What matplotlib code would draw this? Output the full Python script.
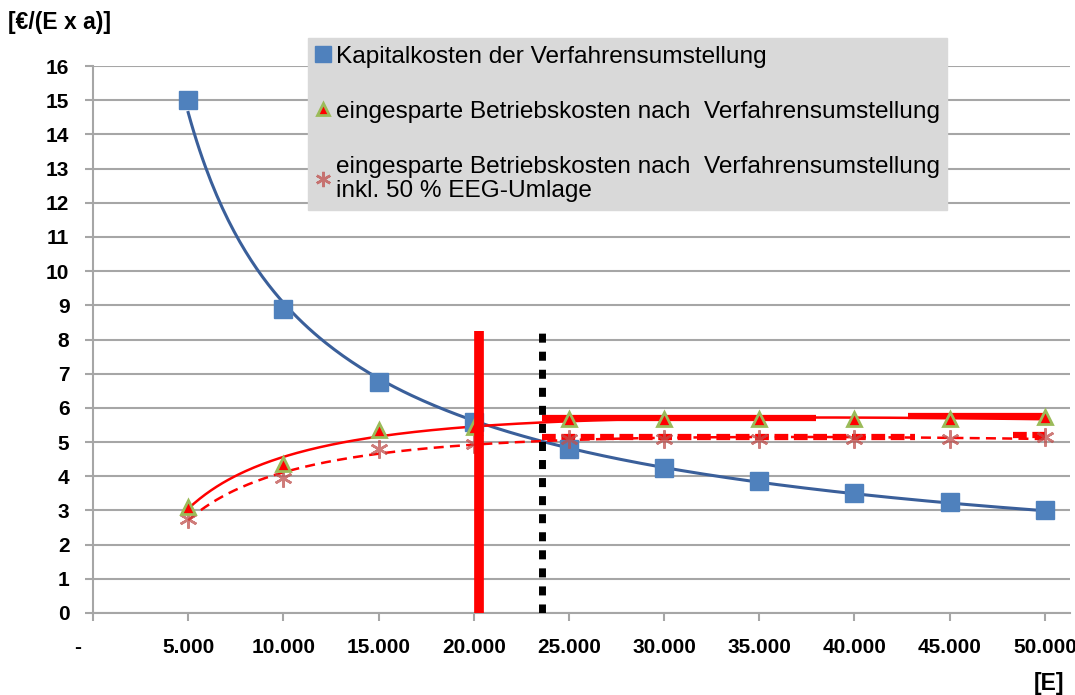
import numpy as np
import matplotlib.pyplot as plt
import matplotlib.transforms as mtransforms
from matplotlib.lines import Line2D

plt.rcParams['font.family'] = ['Liberation Sans', 'DejaVu Sans']

# Einwohner (E)
einwohner = [5000, 10000, 15000, 20000, 25000, 30000, 35000, 40000, 45000, 50000]
kapitalkosten = [15.0, 8.9, 6.75, 5.6, 4.8, 4.25, 3.85, 3.5, 3.25, 3.0]
betriebskosten = [3.1, 4.35, 5.35, 5.45, 5.67, 5.67, 5.67, 5.67, 5.67, 5.72]
betriebskosten_eeg = [2.75, 3.95, 4.8, 4.95, 5.1, 5.1, 5.1, 5.1, 5.1, 5.15]

# Schnittpunkte (Amortisationsgrenze) und Plateau-Niveaus
grenze_ohne_eeg = 20300
grenze_mit_eeg = 23600
grenze_hoehe = 8.25
plateau_1 = [(23600, 38000, 5.70), (42800, 50000, 5.75)]
plateau_2 = [(23600, 43200, 5.15), (48300, 50000, 5.2)]

xticks = [0, 5000, 10000, 15000, 20000, 25000, 30000, 35000, 40000, 45000, 50000]
xticklabels = ['-', '5.000', '10.000', '15.000', '20.000', '25.000',
               '30.000', '35.000', '40.000', '45.000', '50.000']

blau = '#4F81BD'
trend_blau = '#3A5F9A'
rot = '#FF0000'
stern = '#C0504D'

fig = plt.figure(figsize=(10.75, 6.95), dpi=100)
ax = fig.add_axes([0.0865, 0.118, 0.9085, 0.787])

x = np.array(einwohner, dtype=float)
xs = np.linspace(5000, 50000, 300)

# Trendlinien
b, a = np.polyfit(np.log(x), np.log(kapitalkosten), 1)
ax.plot(xs, np.exp(a) * xs ** b, color=trend_blau, lw=2.2, zorder=3)
p1 = np.polyfit(np.log(x), betriebskosten, 2)
ax.plot(xs, np.polyval(p1, np.log(xs)), color=rot, lw=1.8, zorder=3)
p2 = np.polyfit(np.log(x), betriebskosten_eeg, 2)
ax.plot(xs, np.polyval(p2, np.log(xs)), color=rot, lw=1.8, ls=(0, (4, 2.5)), zorder=3)

for x0, x1, yv in plateau_1:
    ax.plot([x0, x1], [yv, yv], color=rot, lw=4.5, solid_capstyle='butt', zorder=3)
for x0, x1, yv in plateau_2:
    ax.plot([x0, x1], [yv, yv], color=rot, lw=4.5, ls=(0, (2.2, 0.9)), zorder=3)

# Datenpunkte
ax.plot(einwohner, kapitalkosten, ls='none', marker='s', ms=13, color=blau,
        mec=blau, zorder=4)
ax.plot(einwohner, betriebskosten_eeg, ls='none', marker=(6, 2, 0), ms=13,
        color=stern, mew=1.8, alpha=0.75, zorder=4)
ax.plot(einwohner, betriebskosten, ls='none', marker='^', ms=10, color=rot,
        mec='#9BBB59', mew=2, zorder=5)

# Grenzlinien
ax.plot([grenze_ohne_eeg, grenze_ohne_eeg], [0, grenze_hoehe], color=rot, lw=7,
        solid_capstyle='butt', zorder=6)
ax.plot([grenze_mit_eeg, grenze_mit_eeg], [0, grenze_hoehe], color='black', lw=5,
        ls=(0, (1.3, 1.3)), zorder=6)

ax.set_xlim(0, 51300)
ax.set_ylim(0, 16)
ax.set_yticks(range(0, 17))
ax.set_xticks(xticks)
ax.set_xticklabels(xticklabels)
ax.grid(axis='y', color='#A6A6A6', lw=1.5, zorder=0)
ax.set_axisbelow(True)
for s in ['top', 'right']:
    ax.spines[s].set_visible(False)
for s in ['left', 'bottom']:
    ax.spines[s].set_color('#A6A6A6')
    ax.spines[s].set_linewidth(1.5)
ax.tick_params(axis='both', colors='#A6A6A6', width=1.5, length=6,
               labelcolor='black', labelsize=15)
ax.tick_params(axis='x', pad=12)
ax.tick_params(axis='y', pad=11)
for lab in ax.get_xticklabels() + ax.get_yticklabels():
    lab.set_fontweight('bold')
strich = ax.get_xticklabels()[0]
strich.set_transform(strich.get_transform() + mtransforms.ScaledTranslation(-15 / 100, 0, fig.dpi_scale_trans))

fig.text(0.007, 0.968, '[€/(E x a)]', fontsize=16.5, fontweight='bold', va='center')
fig.text(0.976, 0.017, '[E]', fontsize=16.5, fontweight='bold', ha='center', va='center')

handles = [
    Line2D([], [], ls='none', marker='s', ms=11, color=blau),
    Line2D([], [], ls='none', marker='^', ms=9, color=rot, mec='#9BBB59', mew=2),
    Line2D([], [], ls='none', marker=(6, 2, 0), ms=11, color=stern, mew=1.8, alpha=0.75),
]
labels = [
    'Kapitalkosten der Verfahrensumstellung',
    'eingesparte Betriebskosten nach  Verfahrensumstellung',
    'eingesparte Betriebskosten nach  Verfahrensumstellung\ninkl. 50 % EEG-Umlage',
]
leg = fig.legend(handles, labels, loc='upper left', bbox_to_anchor=(0.2865, 0.945),
                 fontsize=17.6, frameon=True, facecolor='#D9D9D9', edgecolor='#D9D9D9',
                 fancybox=False, framealpha=1, handlelength=0.6, handletextpad=0.25,
                 labelspacing=1.35, borderpad=0.3, borderaxespad=0)
leg.set_zorder(10)
for t in leg.get_texts():
    t.set_linespacing(1.15)

fig.savefig('out.png', dpi=100)
